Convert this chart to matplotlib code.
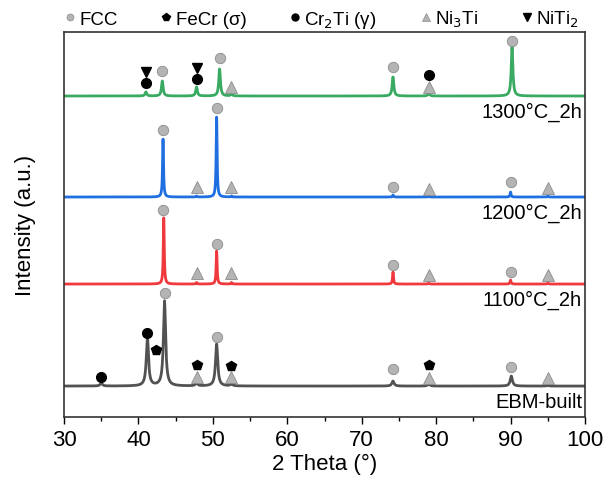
import numpy as np
import matplotlib.pyplot as plt
from matplotlib.lines import Line2D

plt.rcParams['font.family'] = ['Liberation Sans', 'DejaVu Sans']

# peak lists: position (2theta), height above baseline (a.u.)
ebm_pos = [35.0, 41.2, 43.5, 47.8, 50.5, 52.5, 74.2, 79.0, 90.1, 95.0]
ebm_h = [3, 49, 85, 3, 42, 2, 5, 2, 10, 0.6]
t1100_pos = [43.4, 47.8, 50.5, 52.5, 74.2, 79.0, 90.0, 95.0]
t1100_h = [67, 1.5, 33, 1.5, 12, 1, 4, 1]
t1200_pos = [43.3, 47.8, 50.5, 52.5, 74.2, 79.0, 90.0, 95.0]
t1200_h = [58, 1, 80, 1, 2, 1, 5, 1]
t1300_pos = [41.0, 43.2, 47.8, 50.9, 52.5, 74.2, 79.0, 90.2]
t1300_h = [4, 15, 9, 27, 2, 19, 3, 49]

baselines = [31, 133, 220, 321]
widths = [0.35, 0.15, 0.15, 0.26]
colors = ['#525252', '#f0393c', '#1f6fe0', '#3aaa62']
labels = ['EBM-built', '1100°C_2h', '1200°C_2h', '1300°C_2h']

# phase marker positions (2theta, y)
fcc_x = [43.2, 50.9, 74.2, 90.2, 43.3, 50.5, 74.2, 90.0, 43.3, 50.5, 74.2, 90.0, 43.5, 50.5, 74.2, 90.0]
fcc_y = [346, 359, 350, 376, 287, 309, 230, 235, 207, 173, 152, 145, 124, 80, 48, 50]
fecr_x = [42.3, 47.8, 52.5, 79.0]
fecr_y = [67, 52, 51, 52]
cr2ti_x = [41.0, 47.8, 79.0, 35.0, 41.2]
cr2ti_y = [334, 338, 342, 40, 84]
ni3ti_x = [52.5, 79.0, 47.8, 52.5, 79.0, 95.0, 47.8, 52.5, 79.0, 95.0, 47.8, 52.5, 79.0, 95.0]
ni3ti_y = [330, 330, 230, 230, 228, 229, 144, 144, 142, 142, 40, 40, 39, 39]
niti2_x = [41.0, 47.8]
niti2_y = [345, 349]

x = np.linspace(30, 100, 4000)
peaks = [(ebm_pos, ebm_h), (t1100_pos, t1100_h), (t1200_pos, t1200_h), (t1300_pos, t1300_h)]

fig = plt.figure(figsize=(6.1, 4.85), dpi=100)
ax = fig.add_axes([0.105, 0.138, 0.854, 0.794])

for (pos, h), b, w, c in zip(peaks, baselines, widths, colors):
    y = np.full_like(x, float(b))
    for p, hh in zip(pos, h):
        y += hh / (1 + ((x - p) / (w / 2)) ** 2)
    ax.plot(x, y, color=c, lw=2)

gray = '#b4b4b4'
ax.plot(fcc_x, fcc_y, 'o', ms=7.5, mfc=gray, mec='#8c8c8c', mew=0.6, ls='none')
ax.plot(ni3ti_x, ni3ti_y, '^', ms=8, mfc=gray, mec='#8c8c8c', mew=0.6, ls='none')
ax.plot(fecr_x, fecr_y, 'p', ms=7.5, color='black', ls='none')
ax.plot(cr2ti_x, cr2ti_y, 'o', ms=7, color='black', ls='none')
ax.plot(niti2_x, niti2_y, 'v', ms=7.5, color='black', ls='none')

label_y = [16, 118, 205, 306]
for t, ly in zip(labels, label_y):
    ax.text(99.6, ly, t, ha='right', va='center', fontsize=14.5)

ax.set_xlim(30, 100)
ax.set_ylim(0, 385)
ax.set_xticks(np.arange(30, 101, 10))
ax.set_xticks(np.arange(35, 100, 10), minor=True)
ax.set_yticks([])
ax.tick_params(axis='x', which='major', direction='out', length=5, labelsize=16, width=1)
ax.tick_params(axis='x', which='minor', direction='out', length=3, width=1)
ax.set_xlabel('2 Theta (°)', fontsize=16, labelpad=2)
ax.set_ylabel('Intensity (a.u.)', fontsize=16, labelpad=20)
for s in ax.spines.values():
    s.set_color('#333333')
    s.set_linewidth(1.2)

handles = [
    Line2D([], [], marker='o', ls='none', ms=5, mfc=gray, mec='#8c8c8c', mew=0.5),
    Line2D([], [], marker='p', ls='none', ms=5.5, color='black'),
    Line2D([], [], marker='o', ls='none', ms=5, color='black'),
    Line2D([], [], marker='^', ls='none', ms=5.5, mfc=gray, mec='#8c8c8c', mew=0.5),
    Line2D([], [], marker='v', ls='none', ms=5.5, color='black'),
]
names = ['FCC', 'FeCr (σ)', r'Cr$_2$Ti (γ)', r'Ni$_3$Ti', r'NiTi$_2$']
ax.legend(handles, names, ncol=5, loc='lower left', bbox_to_anchor=(0.0, 1.005),
          frameon=False, fontsize=13.5, handletextpad=0.2, columnspacing=2.3,
          handlelength=0.6, borderaxespad=0, borderpad=0)

fig.savefig('out.png', dpi=100)
